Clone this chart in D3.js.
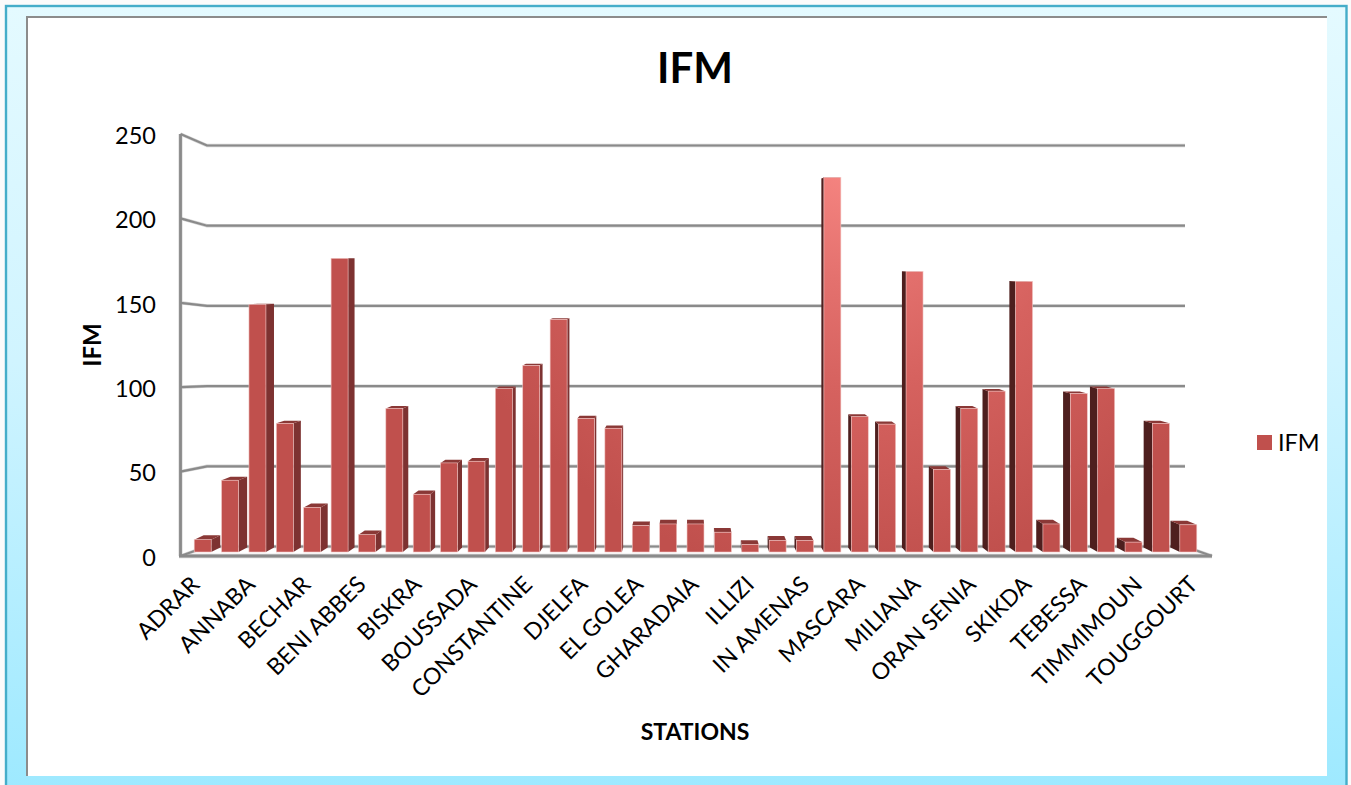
<!DOCTYPE html>
<html>
<head>
<meta charset="utf-8">
<title>IFM</title>
<script src="https://cdn.jsdelivr.net/npm/d3@7"></script>
<style>
  html, body { margin: 0; padding: 0; background: #fbfbfb; overflow: hidden; }
  svg { display: block; }
  text { font-family: Lato, "Liberation Sans", sans-serif; fill: #000; }
</style>
</head>
<body>
<svg id="chart" width="1351" height="785"></svg>
<script>
// Station labels: only every other station carries a label on the axis.
const stations = [
  "ADRAR", "", "ANNABA", "", "BECHAR", "", "BENI ABBES", "", "BISKRA", "",
  "BOUSSADA", "", "CONSTANTINE", "", "DJELFA", "", "EL GOLEA", "", "GHARADAIA", "",
  "ILLIZI", "", "IN AMENAS", "", "MASCARA", "", "MILIANA", "", "ORAN SENIA", "",
  "SKIKDA", "", "TEBESSA", "", "TIMMIMOUN", "", "TOUGGOURT"
];
const ifmValues = [
  7.5, 43.5, 150, 78, 27, 178, 10.5, 87, 35, 54,
  55, 99, 113, 141, 81, 75, 16, 17, 17, 12,
  4.5, 7, 7, 227, 82, 77.5, 170, 50, 87, 97.5,
  164, 17, 96, 99, 6, 78, 16.5
];
const yTicks = [0, 50, 100, 150, 200, 250];
const seriesName = "IFM";
const xTitle = "STATIONS";
const yTitle = "IFM";

const svg = d3.select("#chart");
const defs = svg.append("defs");

// Panel backdrop gradient
const bg = defs.append("linearGradient").attr("id", "panelFill")
  .attr("x1", 0).attr("y1", 0).attr("x2", 0).attr("y2", 1);
bg.append("stop").attr("offset", "0%").attr("stop-color", "#e4faff");
bg.append("stop").attr("offset", "45%").attr("stop-color", "#d0f4ff");
bg.append("stop").attr("offset", "100%").attr("stop-color", "#9de9ff");

// Bars share one light source, brightest around the tallest bar
const barFill = defs.append("radialGradient").attr("id", "barFill")
  .attr("gradientUnits", "userSpaceOnUse")
  .attr("cx", 850).attr("cy", 150).attr("r", 430);
barFill.append("stop").attr("offset", "0%").attr("stop-color", "#f98884");
barFill.append("stop").attr("offset", "30%").attr("stop-color", "#e4716e");
barFill.append("stop").attr("offset", "55%").attr("stop-color", "#d6625f");
barFill.append("stop").attr("offset", "100%").attr("stop-color", "#c0504d");

// Outer frame and white plot card
svg.append("rect").attr("x", 6).attr("y", 6).attr("width", 1340.5).attr("height", 790)
  .attr("fill", "url(#panelFill)").attr("stroke", "#45adc9").attr("stroke-width", 2.4);
svg.append("rect").attr("x", 27).attr("y", 17).attr("width", 1300).attr("height", 759).attr("fill", "#fff");
svg.append("path").attr("d", "M27,776V17H1327").attr("fill", "none")
  .attr("stroke", "#8c8c8c").attr("stroke-width", 2);

// Front and back planes of the 3D box use separate value scales
const yFront = d3.scaleLinear().domain([0, 250]).range([556, 134]);
const yBack = d3.scaleLinear().domain([0, 250]).range([546.5, 145.5]);
const yBar = d3.scaleLinear().domain([0, 250]).range([552, 139.5]);
const x = d3.scaleBand().domain(d3.range(stations.length))
  .range([189, 1202]).paddingInner(0.38).paddingOuter(0.19);
// The label row sits on the wider front edge of the floor
const xLabel = d3.scaleLinear().domain([0, stations.length - 1]).range([201, 1199]);

const wallLeftFront = 180.5, wallLeftBack = 207, wallRightBack = 1185, floorRightFront = 1212;
const line = d3.line();

// Each grid stroke gets a pale halo under a darker core
function drawFrameLines(color, extra) {
  const grid = svg.append("g").attr("fill", "none").attr("stroke", color);
  grid.selectAll("path.tick-line").data(yTicks.filter(d => d > 0)).join("path")
    .attr("class", "tick-line").attr("stroke-width", 2.2 + extra)
    .attr("d", d => line([[wallLeftFront, yFront(d)], [wallLeftBack, yBack(d)], [wallRightBack, yBack(d)]]));
  grid.append("path").attr("stroke-width", 2.8 + extra)
    .attr("d", line([[wallLeftFront, yFront(250)], [wallLeftFront, yFront(0)]]));
  grid.append("path").attr("stroke-width", 2.2 + extra).attr("stroke-linejoin", "miter")
    .attr("d", line([[wallLeftFront, yFront(0)], [wallLeftBack, yBack(0)], [wallRightBack, yBack(0)], [floorRightFront, yFront(0)]]));
  grid.append("path").attr("stroke-width", 3.2 + extra)
    .attr("d", line([[wallLeftFront - 1.5, yFront(0)], [floorRightFront, yFront(0)]]));
}
drawFrameLines("#d4d4d4", 1.2);
drawFrameLines("#8a8a8a", 0);

// Perspective offsets of the far edge of a bar
const vanishX = 690, vanishY = 250, depthK = 0.019, depthKY = 0.015;
const backX = px => px + (vanishX - px) * depthK;
const backY = py => py + (vanishY - py) * depthKY;

const bars = svg.append("g").selectAll("g").data(ifmValues).join("g");

// Visible side face, on the side facing the vanishing point
bars.append("path")
  .attr("fill", (d, i) => (x(i) + x.bandwidth() / 2 < vanishX ? "#7d3231" : "#4e1f1e"))
  .attr("d", (d, i) => {
    const edge = x(i) + x.bandwidth() / 2 < vanishX ? x(i) + x.bandwidth() : x(i);
    const top = yBar(d), base = yBar(0);
    return line([[edge, base], [edge, top], [backX(edge), backY(top)], [backX(edge), backY(base)]]) + "Z";
  });

// Top face
bars.append("path")
  .attr("fill", "#8a3836")
  .attr("d", (d, i) => {
    const x0 = x(i), x1 = x(i) + x.bandwidth(), top = yBar(d);
    return line([[x0, top], [x1, top], [backX(x1), backY(top)], [backX(x0), backY(top)]]) + "Z";
  });

// Front face
bars.append("rect")
  .attr("x", (d, i) => x(i))
  .attr("y", d => yBar(d))
  .attr("width", x.bandwidth())
  .attr("height", d => yBar(0) - yBar(d))
  .attr("fill", "url(#barFill)")
  .attr("stroke", "#f0c4c2").attr("stroke-width", 0.6);

// Value axis labels
const yAxis = d3.axisLeft(yFront).tickValues(yTicks).tickSize(0).tickPadding(0);
const yAxisG = svg.append("g").attr("transform", "translate(156,1.2)").call(yAxis);
yAxisG.select(".domain").remove();
yAxisG.selectAll("text").style("font-size", "23.5px").attr("dy", "0.34em");

// Station labels, slanted and anchored at their end
svg.append("g").selectAll("text")
  .data(stations.map((name, i) => ({ name, i })).filter(d => d.name))
  .join("text")
  .attr("text-anchor", "end")
  .attr("transform", d => `translate(${xLabel(d.i)},586) rotate(-45)`)
  .style("font-size", "23px")
  .text(d => d.name);

// Titles
svg.append("text").attr("x", 695).attr("y", 83).attr("text-anchor", "middle")
  .style("font-size", "42px").style("font-weight", 700).text(seriesName);
svg.append("text").attr("x", 695).attr("y", 740).attr("text-anchor", "middle")
  .style("font-size", "23px").style("font-weight", 700).text(xTitle);
svg.append("text").attr("transform", "translate(101,345) rotate(-90)").attr("text-anchor", "middle")
  .style("font-size", "24px").style("font-weight", 700).text(yTitle);

// Legend
const legend = svg.append("g");
legend.append("rect").attr("x", 1257).attr("y", 435).attr("width", 15).attr("height", 15).attr("fill", "#c0504d");
legend.append("text").attr("x", 1278).attr("y", 451).style("font-size", "23.5px").text(seriesName);
</script>
</body>
</html>
